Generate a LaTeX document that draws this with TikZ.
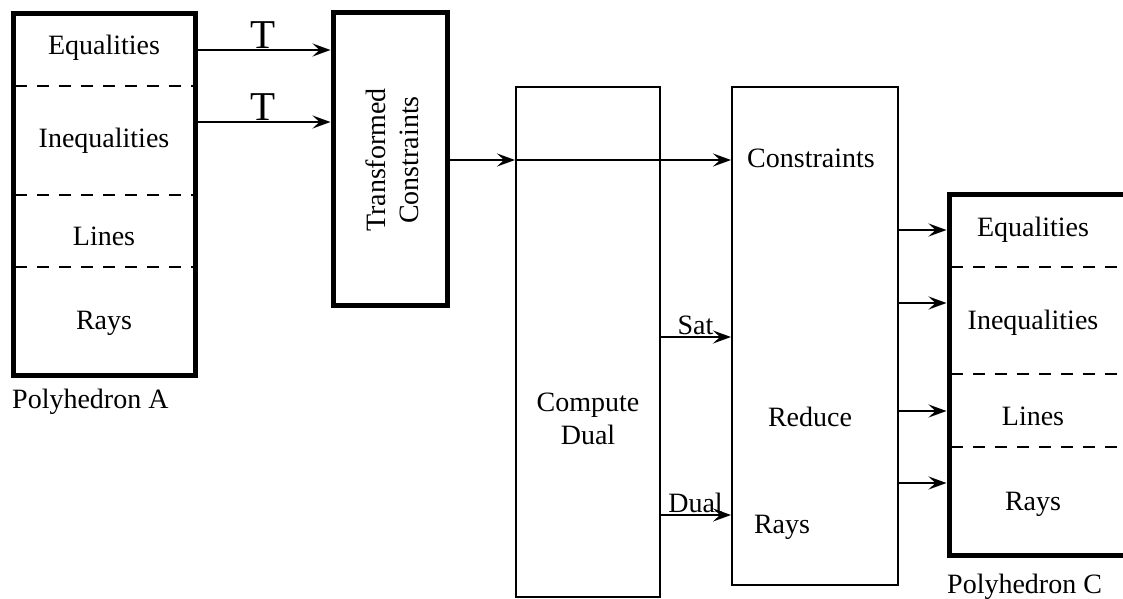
\documentclass[tikz,border=0pt]{standalone}
\usepackage{fontspec}
\setmainfont{Liberation Serif}
\usetikzlibrary{arrows.meta}

\begin{document}
\begin{tikzpicture}[x=1pt, y=-1pt,
  font=\fontsize{28}{33}\selectfont,
  heavybox/.style={draw, line width=5pt, inner sep=0pt},
  lightbox/.style={draw, line width=2pt, inner sep=0pt},
  sep/.style={line width=2pt, dash pattern=on 12pt off 10pt},
  arr/.style={line width=2.2pt, -{Stealth[length=18pt, width=13pt, inset=7pt]}},
  tlabel/.style={above, inner sep=0pt, font=\fontsize{41}{44}\selectfont},
]
  \useasboundingbox (0,0) rectangle (1123,598);
  \clip (0,0) rectangle (1123,598);
  % boxes
  \node[heavybox, minimum width=182pt, minimum height=362pt] (pa) at (104,194) {};
  \node[heavybox, minimum width=114pt, minimum height=293pt] (tc) at (390,158.5) {};
  \node[lightbox, minimum width=144pt, minimum height=510pt] (cd) at (588,342) {};
  \node[lightbox, minimum width=166pt, minimum height=498pt] (rd) at (815,336) {};
  \node[heavybox, minimum width=182pt, minimum height=361pt] (pc) at (1040,374.5) {};
  % separators
  \foreach \y in {86,195,267} \draw[sep] (15,\y) -- (193,\y);
  \foreach \y in {267,374,447} \draw[sep] (951,\y) -- (1123,\y);
  % texts
  \node (eqa)  at (104,48)  {Equalities};
  \node (ineqa) at (104,141) {Inequalities};
  \node (lina) at (104,236) {Lines};
  \node (raya) at (104,323) {Rays};
  \node[anchor=west, inner sep=0pt] (pola) at (12,402) {Polyhedron A};
  \node[rotate=90, align=center] (tct) at (392,160) {Transformed\\Constraints};
  \node[align=center] (cdt) at (588,419) {Compute\\Dual};
  \node (cons) at (811,158) {Constraints};
  \node (red)  at (810,417) {Reduce};
  \node (rays) at (782,527) {Rays};
  \node (eqc)  at (1033,230) {Equalities};
  \node (ineqc) at (1033,323) {Inequalities};
  \node (linc) at (1033,416) {Lines};
  \node (rayc) at (1033,504) {Rays};
  \node[anchor=west, inner sep=0pt] (polc) at (947,587) {Polyhedron C};
  % arrows
  \coordinate (t1) at (195,50);
  \coordinate (t2) at (195,122);
  \coordinate (k1) at (447,160);
  \coordinate (s1) at (660,337);
  \coordinate (d1) at (660,515);
  \draw[arr] (t1) -- node[tlabel] (ta) {T} (t1 -| tc.west);
  \draw[arr] (t2) -- node[tlabel] (tb) {T} (t2 -| tc.west);
  \draw[arr] (k1) -- (k1 -| cd.west);
  \draw[arr] (k1 -| cd.west) -- (k1 -| rd.west);
  \draw[arr] (s1) -- node[above, inner sep=1pt] (sat) {Sat} (s1 -| rd.west);
  \draw[arr] (d1) -- node[above, inner sep=1pt] (dual) {Dual} (d1 -| rd.west);
  \foreach \y in {230,303,411,483}
    \draw[arr] (rd.east |- 0,\y) -- (pc.west |- 0,\y);
\end{tikzpicture}
\end{document}
